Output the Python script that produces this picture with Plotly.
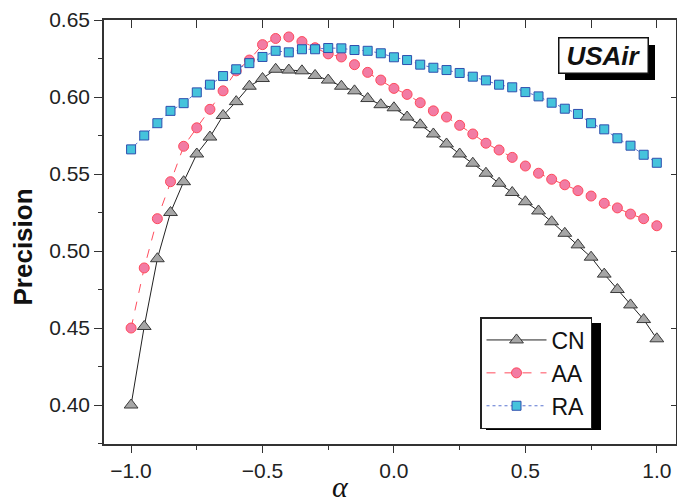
import plotly.graph_objects as go

alpha = [round(-1.0 + 0.05 * i, 2) for i in range(41)]

cn = [0.400, 0.451, 0.495, 0.525, 0.545, 0.563, 0.574, 0.588, 0.597, 0.607,
      0.612, 0.618, 0.6175, 0.617, 0.614, 0.611, 0.607, 0.604, 0.599, 0.595,
      0.593, 0.587, 0.582, 0.576, 0.5695, 0.563, 0.557, 0.5505, 0.544, 0.538,
      0.532, 0.526, 0.519, 0.5115, 0.504, 0.496, 0.485, 0.475, 0.465, 0.4555,
      0.443]

aa = [0.450, 0.489, 0.521, 0.545, 0.568, 0.580, 0.592, 0.604, 0.617, 0.624,
      0.634, 0.638, 0.639, 0.636, 0.632, 0.628, 0.626, 0.621, 0.616, 0.611,
      0.6056, 0.6017, 0.5963, 0.591, 0.587, 0.5816, 0.576, 0.570, 0.5656, 0.5608,
      0.5552, 0.5505, 0.5466, 0.543, 0.5392, 0.5357, 0.531, 0.528, 0.524, 0.521,
      0.5164]

ra = [0.566, 0.575, 0.583, 0.591, 0.596, 0.603, 0.608, 0.6136, 0.618, 0.622,
      0.626, 0.630, 0.629, 0.631, 0.631, 0.6318, 0.6316, 0.6305, 0.630, 0.6284,
      0.6258, 0.624, 0.621, 0.619, 0.6175, 0.6156, 0.6132, 0.6108, 0.608, 0.6063,
      0.6032, 0.6004, 0.5963, 0.5924, 0.589, 0.583, 0.579, 0.5732, 0.5684, 0.5625,
      0.5573]

series_names = ["CN", "AA", "RA"]
x_ticks = [-1.0, -0.5, 0.0, 0.5, 1.0]
y_ticks = [0.40, 0.45, 0.50, 0.55, 0.60, 0.65]

FONT = "Liberation Sans, Arial, sans-serif"
AX = "#333333"

W, H = 677, 502
ML, MR, MT, MB = 104, 1, 20, 58
PW, PH = W - ML - MR, H - MT - MB


def px_to_paper_x(px):
    return (px - ML) / PW


def px_to_paper_y(py):
    return (H - MB - py) / PH


fig = go.Figure()

fig.add_trace(go.Scatter(
    x=alpha, y=cn, name=series_names[0], mode="lines+markers",
    line=dict(color="#222222", width=1),
    marker=dict(symbol="triangle-up", size=12, color="#a6a6a6",
                line=dict(color="#3a3a3a", width=1)),
    legendgroup="g1"))
fig.add_trace(go.Scatter(
    x=alpha, y=aa, name=series_names[1], mode="lines+markers",
    line=dict(color="#ff4d5e", width=1, dash="dash"),
    marker=dict(symbol="circle", size=10, color="#f27ca4",
                line=dict(color="#ff4a5c", width=1)),
    legendgroup="g2"))
fig.add_trace(go.Scatter(
    x=alpha, y=ra, name=series_names[2], mode="lines+markers",
    line=dict(color="#5a74d0", width=1, dash="dot"),
    marker=dict(symbol="square", size=9, color="#45c3dc",
                line=dict(color="#2f4fae", width=1)),
    legendgroup="g3"))

# dummy trace to realise mirrored axes (top / right)
fig.add_trace(go.Scatter(x=[], y=[], xaxis="x2", yaxis="y2",
                         showlegend=False, hoverinfo="skip"))

xr = [-1.103, 1.073]
yr = [0.3747, 0.65]

fig.update_layout(
    width=W, height=H,
    margin=dict(l=ML, r=MR, t=MT, b=MB, pad=0),
    paper_bgcolor="white", plot_bgcolor="white",
    font=dict(family=FONT, size=21, color="#222222"),
    showlegend=True,
    legend=dict(
        x=px_to_paper_x(480), y=px_to_paper_y(317),
        xanchor="left", yanchor="top",
        bgcolor="white", bordercolor="#222222", borderwidth=1.5,
        font=dict(family=FONT, size=23, color="#111111"),
        itemwidth=60, tracegroupgap=0, traceorder="normal",
    ),
    xaxis=dict(
        range=xr, tickvals=x_ticks, tickformat=".1f",
        ticks="outside", ticklen=7, tickwidth=1.3, tickcolor=AX,
        minor=dict(dtick=0.25, tick0=0, ticks="outside", ticklen=4,
                   tickwidth=1.3, tickcolor=AX),
        showline=True, linecolor=AX, linewidth=1.5,
        showgrid=False, zeroline=False,
        tickfont=dict(family=FONT, size=21, color="#222222"),
    ),
    yaxis=dict(
        range=yr, tickvals=y_ticks, tickformat=".2f",
        ticks="outside", ticklen=8, tickwidth=1.3, tickcolor=AX,
        minor=dict(dtick=0.025, tick0=0, ticks="outside", ticklen=4,
                   tickwidth=1.3, tickcolor=AX),
        showline=True, linecolor=AX, linewidth=1.5,
        showgrid=False, zeroline=False,
        tickfont=dict(family=FONT, size=21, color="#222222"),
    ),
    xaxis2=dict(
        overlaying="x", side="top", matches="x", range=xr,
        tickvals=x_ticks, ticks="inside", ticklen=8, tickwidth=1.3,
        tickcolor=AX,
        minor=dict(dtick=0.25, tick0=0, ticks="inside", ticklen=8,
                   tickwidth=1.3, tickcolor=AX),
        showticklabels=False, showline=True, linecolor=AX, linewidth=1.5,
        showgrid=False, zeroline=False,
    ),
    yaxis2=dict(
        overlaying="y", side="right", matches="y", range=yr,
        tickvals=y_ticks, ticks="inside", ticklen=5, tickwidth=1.3,
        tickcolor=AX,
        showticklabels=False, showline=True, linecolor=AX, linewidth=1.5,
        showgrid=False, zeroline=False,
    ),
)

shapes = [
    # legend shadow
    dict(type="rect", xref="paper", yref="paper", layer="above",
         x0=px_to_paper_x(486), x1=px_to_paper_x(601),
         y0=px_to_paper_y(430), y1=px_to_paper_y(323),
         fillcolor="black", line=dict(width=0)),
    # title box shadow
    dict(type="rect", xref="paper", yref="paper", layer="above",
         x0=px_to_paper_x(565), x1=px_to_paper_x(655),
         y0=px_to_paper_y(80), y1=px_to_paper_y(45),
         fillcolor="black", line=dict(width=0)),
]
fig.update_layout(shapes=shapes)

fig.add_annotation(
    text="<b><i>USAir</i></b>", xref="paper", yref="paper",
    x=px_to_paper_x(603), y=px_to_paper_y(55.5),
    xanchor="center", yanchor="middle", showarrow=False,
    font=dict(family=FONT, size=26, color="#111111"),
    bgcolor="white", bordercolor="#111111", borderwidth=1.5, borderpad=1,
    width=86, height=32)

fig.add_annotation(
    text="<b>Precision</b>", xref="paper", yref="paper",
    x=px_to_paper_x(22), y=px_to_paper_y(247.5),
    xanchor="center", yanchor="middle", textangle=-90, showarrow=False,
    font=dict(family=FONT, size=26, color="#111111"))

fig.add_annotation(
    text="<i>α</i>", xref="paper", yref="paper",
    x=px_to_paper_x(340), y=px_to_paper_y(486),
    xanchor="center", yanchor="middle", showarrow=False,
    font=dict(family="Liberation Serif, Times New Roman, serif", size=30,
              color="#111111"))

fig.write_html("out.html",
               config={"displayModeBar": False},
               post_script="document.body.style.margin='0';"
                           "document.body.style.padding='0';")
